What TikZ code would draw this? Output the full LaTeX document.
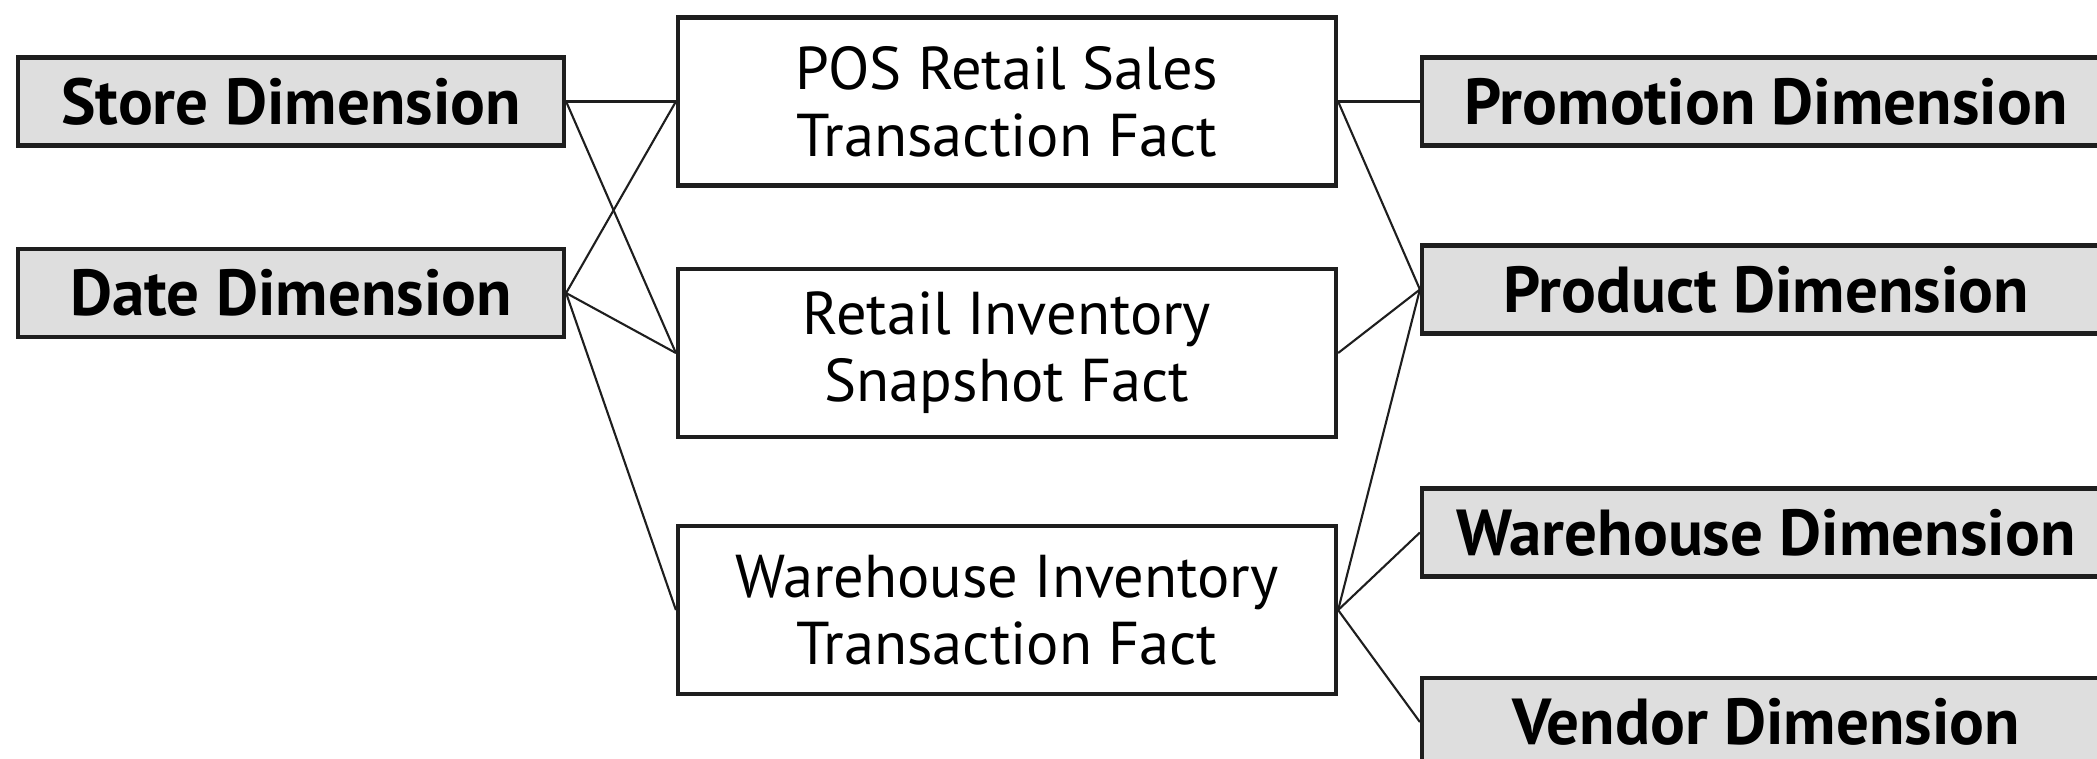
\documentclass[tikz,border=0pt]{standalone}
\usepackage{fontspec}
\setmainfont{PT Sans}
\usetikzlibrary{positioning}
\definecolor{dimgray}{HTML}{DEDEDE}
\definecolor{boxline}{HTML}{1E1E1E}

\begin{document}
\begin{tikzpicture}[-,semithick,line width=0.6pt]
			\tikzstyle{dimbox}=[draw=boxline,line width=1.2pt,fill=dimgray,text=black,font=\fontsize{18.5}{21}\selectfont\bfseries,minimum height=0.88cm,inner sep=0pt]
			\tikzstyle{factbox}=[draw=boxline,line width=1.2pt,fill=white,text=black,font=\fontsize{17.2}{19}\selectfont,align=center,minimum width=6.58cm,minimum height=1.68cm,inner sep=0pt]
			\useasboundingbox (0,0) rectangle (20.97,-7.58);
			\node[dimbox,minimum width=5.46cm]    (store) at (2.91,-1.015)                   {Store Dimension};
			\node[dimbox,minimum width=5.46cm]    (date)[below of=store, node distance=1.915cm] {Date Dimension};
			\node[factbox]  (pos)[right of=store, node distance=7.16cm]    {POS Retail Sales\\Transaction Fact};
			\node[factbox]  (retail)[below of=pos, node distance=2.515cm]  {Retail Inventory\\Snapshot Fact};
			\node[factbox]  (whinv)[below of=retail, node distance=2.57cm] {Warehouse Inventory\\Transaction Fact};
			\node[dimbox,minimum width=6.88cm]    (promo)[right of=pos, node distance=7.59cm]      {Promotion Dimension};
			\node[dimbox,minimum width=6.88cm]    (product)[below of=promo, node distance=1.88cm]  {Product Dimension};
			\node[dimbox,minimum width=6.88cm]    (whdim)[below of=product, node distance=2.43cm]  {Warehouse Dimension};
			\node[dimbox,minimum width=6.88cm]    (vendor)[below of=whdim, node distance=1.895cm]  {Vendor Dimension};
			\path[draw=boxline]
			(store.east) edge (pos.west)
			(store.east) edge (retail.west)
			(date.east) edge (pos.west)
			(date.east) edge (retail.west)
			(date.east) edge (whinv.west)
			(pos.east) edge (promo.west)
			(pos.east) edge (product.west)
			(retail.east) edge (product.west)
			(whinv.east) edge (product.west)
			(whinv.east) edge (whdim.west)
			(whinv.east) edge (vendor.west);
		\end{tikzpicture}
\end{document}
